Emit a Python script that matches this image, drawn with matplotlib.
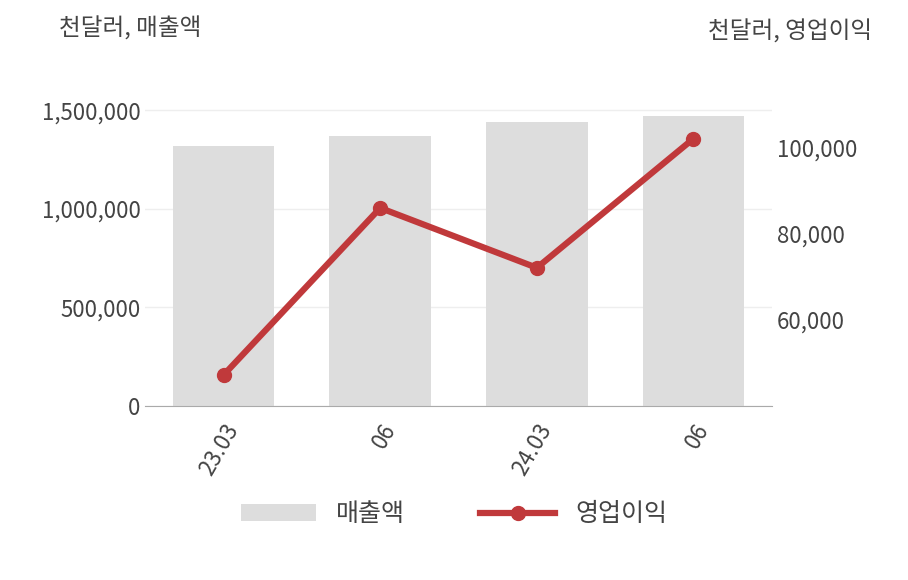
import matplotlib
matplotlib.use("Agg")
import matplotlib.pyplot as plt
from matplotlib.ticker import FuncFormatter

plt.rcParams['font.family'] = ['Noto Sans CJK KR', 'DejaVu Sans']

periods = ["23.03", "06", "24.03", "06"]
sales = [1320000, 1371000, 1442000, 1472000]
op_profit = [47200, 86000, 72100, 102100]

COR_BAR = "#dddddd"
COR_LINE = "#c0393b"
COR_TEXT = "#444444"

fig = plt.figure(figsize=(9.08, 5.8), dpi=100)
ax1 = fig.add_axes([0.16, 0.30, 0.69, 0.53])
ax2 = ax1.twinx()

x = list(range(len(periods)))
ax1.bar(x, sales, width=0.65, color=COR_BAR, label="매출액", zorder=2)
ax2.plot(x, op_profit, color=COR_LINE, linewidth=4.5, marker="o", markersize=10,
         label="영업이익", zorder=3)

ax1.set_ylim(0, 1560000)
ax1.set_yticks([0, 500000, 1000000, 1500000])
ax2.set_ylim(40000, 111400)
ax2.set_yticks([60000, 80000, 100000])
fmt = FuncFormatter(lambda v, p: f"{int(v):,}")
ax1.yaxis.set_major_formatter(fmt)
ax2.yaxis.set_major_formatter(fmt)
ax1.set_xlim(-0.5, 3.5)
ax1.set_xticks(x)
ax1.set_xticklabels(periods, rotation=60, ha="right", rotation_mode="anchor")

ax1.grid(axis="y", color="#eeeeee", linewidth=1, zorder=0)
ax1.set_axisbelow(True)
for ax in (ax1, ax2):
    for s in ("top", "right", "left"):
        ax.spines[s].set_visible(False)
    ax.tick_params(length=0, labelsize=16, labelcolor=COR_TEXT)
ax2.spines["bottom"].set_visible(False)
ax1.spines["bottom"].set_color("#aaaaaa")
ax1.tick_params(axis="x", pad=10)

fig.text(0.065, 0.95, "천달러, 매출액", fontsize=17, color=COR_TEXT, ha="left", va="center")
fig.text(0.96, 0.945, "천달러, 영업이익", fontsize=17, color=COR_TEXT, ha="right", va="center")

h1, l1 = ax1.get_legend_handles_labels()
h2, l2 = ax2.get_legend_handles_labels()
fig.legend(h1 + h2, l1 + l2, loc="center", bbox_to_anchor=(0.5, 0.113), ncol=2,
           frameon=False, fontsize=18, labelcolor=COR_TEXT, handlelength=3,
           columnspacing=3)

fig.savefig("out.png", dpi=100)
